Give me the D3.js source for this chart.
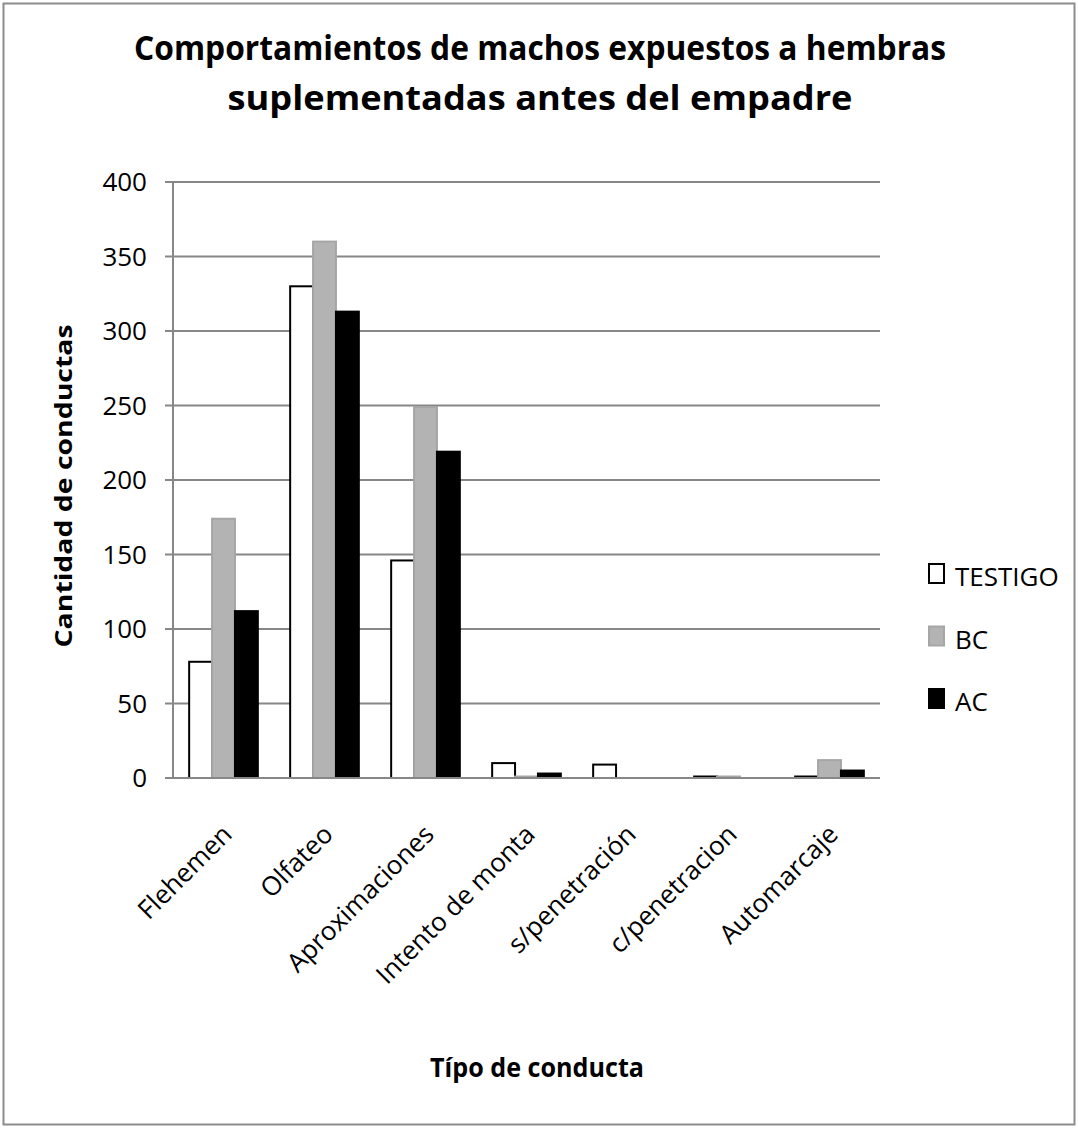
<!DOCTYPE html>
<html>
<head>
<meta charset="utf-8">
<script src="https://cdnjs.cloudflare.com/ajax/libs/d3/7.8.5/d3.min.js"></script>
<style>
  body { margin: 0; background: #fff; }
  text { font-family: "Open Sans", "DejaVu Sans", sans-serif; }
</style>
</head>
<body>
<div id="chart"></div>
<script>
var categories = ["Flehemen", "Olfateo", "Aproximaciones", "Intento de monta", "s/penetración", "c/penetracion", "Automarcaje"];
var seriesNames = ["TESTIGO", "BC", "AC"];
var testigo = [78, 330, 146, 10, 9, 1, 1];
var bc = [174, 360, 249, 1, 0, 1, 12];
var ac = [112, 313, 219, 3, 0, 0, 5];
var yTicks = [0, 50, 100, 150, 200, 250, 300, 350, 400];

var seriesValues = [testigo, bc, ac];
var fills = ["#ffffff", "#b3b3b3", "#000000"];
var strokes = ["#000000", "#a6a6a6", "#000000"];

var W = 1078, H = 1128;
var margin = {top: 182, left: 173};
var plotW = 707, plotH = 596;

var svg = d3.select("#chart").append("svg")
  .attr("width", W)
  .attr("height", H);

// outer frame
svg.append("rect")
  .attr("x", 3.5).attr("y", 3.5)
  .attr("width", W - 7).attr("height", H - 7)
  .attr("fill", "#fff")
  .attr("stroke", "#8c8c8c")
  .attr("stroke-width", 2);

// title
var titleLines = ["Comportamientos  de machos expuestos a hembras", "suplementadas antes del empadre"];
var titleWidths = [812, 625];
svg.selectAll("text.title")
  .data(titleLines)
  .enter().append("text")
  .attr("class", "title")
  .attr("x", 540)
  .attr("y", function(d, i) { return 60 + i * 50; })
  .attr("text-anchor", "middle")
  .attr("font-size", 34)
  .attr("font-weight", "bold")
  .attr("textLength", function(d, i) { return titleWidths[i]; })
  .attr("lengthAdjust", "spacingAndGlyphs")
  .attr("fill", "#000")
  .text(function(d) { return d; });

var g = svg.append("g")
  .attr("transform", "translate(" + margin.left + "," + margin.top + ")");

var y = d3.scaleLinear()
  .domain([0, 400])
  .range([plotH, 0]);

var x0 = d3.scaleBand()
  .domain(categories)
  .range([0, plotW])
  .paddingInner(0.32)
  .paddingOuter(0.16);

var x1 = d3.scaleBand()
  .domain(seriesNames)
  .range([0, x0.bandwidth()]);

// gridlines
g.append("g")
  .selectAll("line")
  .data(yTicks)
  .enter().append("line")
  .attr("x1", -8)
  .attr("x2", plotW)
  .attr("y1", function(d) { return y(d); })
  .attr("y2", function(d) { return y(d); })
  .attr("stroke", "#878787")
  .attr("stroke-width", 2);

// y axis line
g.append("line")
  .attr("x1", 0).attr("x2", 0)
  .attr("y1", 0).attr("y2", plotH)
  .attr("stroke", "#878787")
  .attr("stroke-width", 2);

// y tick labels
g.append("g")
  .selectAll("text")
  .data(yTicks)
  .enter().append("text")
  .attr("x", -26)
  .attr("y", function(d) { return y(d) + 9; })
  .attr("text-anchor", "end")
  .attr("font-size", 26)
  .attr("fill", "#000")
  .text(function(d) { return d; });

// bars
var groups = g.append("g")
  .selectAll("g")
  .data(categories)
  .enter().append("g")
  .attr("transform", function(d) { return "translate(" + x0(d) + ",0)"; });

groups.selectAll("rect")
  .data(function(d, ci) {
    return seriesNames.map(function(s, si) {
      return {series: s, si: si, value: seriesValues[si][ci]};
    });
  })
  .enter().append("rect")
  .filter(function(d) { return d.value > 0; })
  .attr("x", function(d) { return x1(d.series); })
  .attr("y", function(d) { return y(d.value); })
  .attr("width", x1.bandwidth())
  .attr("height", function(d) { return plotH - y(d.value); })
  .attr("fill", function(d) { return fills[d.si]; })
  .attr("stroke", function(d) { return strokes[d.si]; })
  .attr("stroke-width", 2);

// baseline on top
g.append("line")
  .attr("x1", -8).attr("x2", plotW)
  .attr("y1", plotH).attr("y2", plotH)
  .attr("stroke", "#878787")
  .attr("stroke-width", 2);

// x labels
g.append("g")
  .selectAll("text")
  .data(categories)
  .enter().append("text")
  .attr("transform", function(d) {
    return "translate(" + (x0(d) + x0.bandwidth() / 2 + 10) + "," + 654 + ") rotate(-45)";
  })
  .attr("text-anchor", "end")
  .attr("font-size", 26)
  .attr("fill", "#000")
  .text(function(d) { return d; });

// axis titles
svg.append("text")
  .attr("transform", "translate(72,486) rotate(-90)")
  .attr("text-anchor", "middle")
  .attr("font-size", 23)
  .attr("font-weight", "bold")
  .attr("textLength", 323)
  .attr("lengthAdjust", "spacingAndGlyphs")
  .attr("fill", "#000")
  .text("Cantidad  de conductas");

svg.append("text")
  .attr("x", 537)
  .attr("y", 1077)
  .attr("text-anchor", "middle")
  .attr("font-size", 27)
  .attr("font-weight", "bold")
  .attr("textLength", 214)
  .attr("lengthAdjust", "spacingAndGlyphs")
  .attr("fill", "#000")
  .text("Típo de conducta");

// legend
var legend = svg.append("g")
  .selectAll("g")
  .data(seriesNames)
  .enter().append("g")
  .attr("transform", function(d, i) { return "translate(929," + (564 + i * 62.5) + ")"; });

legend.append("rect")
  .attr("width", 15)
  .attr("height", 19)
  .attr("fill", function(d, i) { return fills[i]; })
  .attr("stroke", function(d, i) { return strokes[i]; })
  .attr("stroke-width", 2);

legend.append("text")
  .attr("x", 26)
  .attr("y", 22)
  .attr("font-size", 26)
  .attr("fill", "#000")
  .text(function(d) { return d; });
</script>
</body>
</html>
